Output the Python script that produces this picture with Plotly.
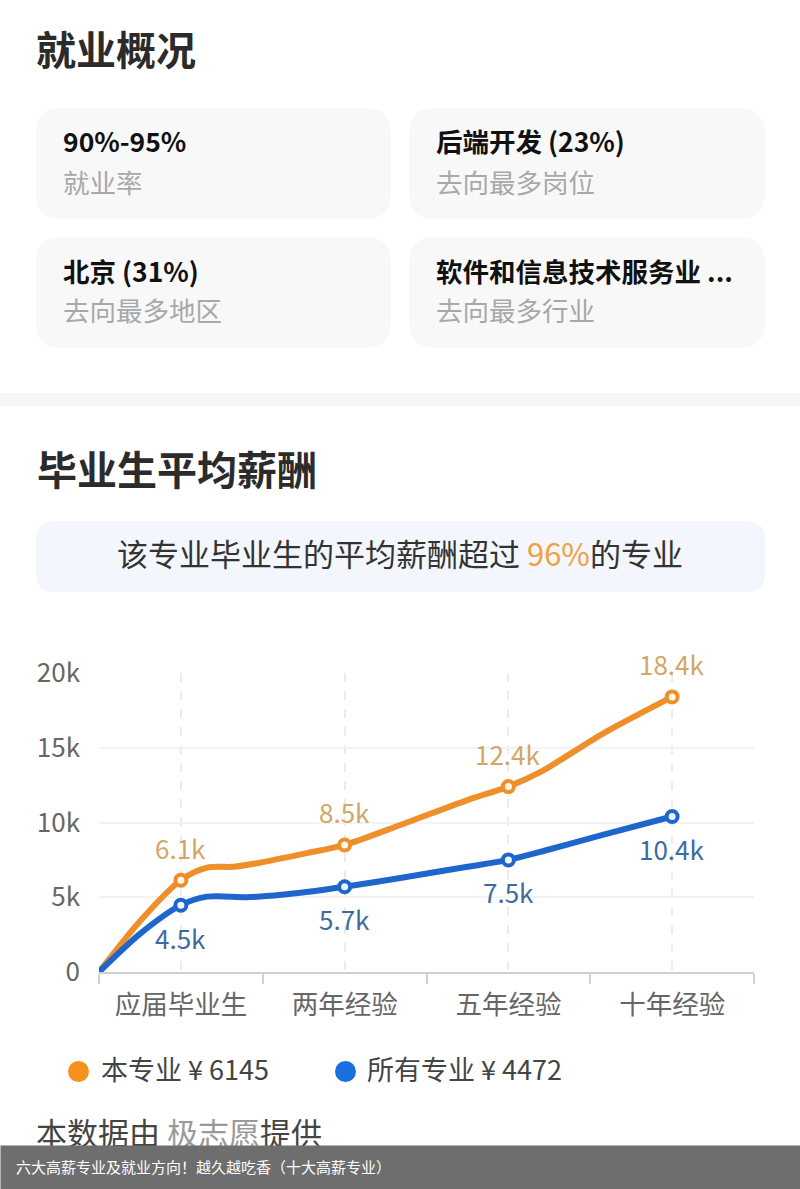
# Employment overview page with the graduate salary line chart.
import plotly.graph_objects as go

W, H = 800, 1189
FONT = "Noto Sans CJK SC"

# ---- chart data ----
categories = ["应届毕业生", "两年经验", "五年经验", "十年经验"]
major_values = [6145, 8500, 12400, 18400]
all_values = [4472, 5700, 7500, 10400]
major_labels = ["6.1k", "8.5k", "12.4k", "18.4k"]
all_labels = ["4.5k", "5.7k", "7.5k", "10.4k"]

# curve (x in category units, start is the axis origin)
major_curve_x = [-0.5, -0.25, 0, 0.16, 0.32, 0.48, 0.77, 1, 1.34, 1.75, 2, 2.2, 2.57, 3]
major_curve_y = [0, 3400, 6145, 6980, 7040, 7310, 7950, 8500, 9830, 11500, 12400, 13400, 15900, 18400]
all_curve_x = [-0.5, -0.25, 0, 0.16, 0.42, 0.73, 1, 1.34, 1.75, 2, 2.22, 2.57, 3]
all_curve_y = [0, 2550, 4472, 5040, 5010, 5300, 5700, 6290, 7040, 7500, 8110, 9160, 10400]

y_ticks = [0, 5000, 10000, 15000, 20000]
y_tick_labels = ["0", "5k", "10k", "15k", "20k"]
x_boundaries = [-0.5, 0.5, 1.5, 2.5, 3.5]

# ---- page text ----
cards = [
    ("90%-95%", "就业率"),
    ("后端开发 (23%)", "去向最多岗位"),
    ("北京 (31%)", "去向最多地区"),
    ("软件和信息技术服务业 ...", "去向最多行业"),
]
legend_items = ["本专业 ¥ 6145", "所有专业 ¥ 4472"]
caption_bar = "六大高薪专业及就业方向\uff01越久越吃香\uff08十大高薪专业\uff09"

ORANGE = "#ee8f2a"
BLUE = "#1f66cc"


# Pixel position (from the top left) to paper coordinates.
def px(x):
    return x / W


def py(y):
    return 1 - y / H


# Rounded box as a paper-referenced path shape.
def round_box(x0, y0, x1, y1, r, color):
    path = (f"M {px(x0 + r)} {py(y0)} L {px(x1 - r)} {py(y0)} Q {px(x1)} {py(y0)} {px(x1)} {py(y0 + r)} "
            f"L {px(x1)} {py(y1 - r)} Q {px(x1)} {py(y1)} {px(x1 - r)} {py(y1)} "
            f"L {px(x0 + r)} {py(y1)} Q {px(x0)} {py(y1)} {px(x0)} {py(y1 - r)} "
            f"L {px(x0)} {py(y0 + r)} Q {px(x0)} {py(y0)} {px(x0 + r)} {py(y0)} Z")
    return dict(type="path", path=path, xref="paper", yref="paper", fillcolor=color,
                line=dict(width=0), layer="below")


def text(x, y, s, size, color, anchor="left", **kw):
    return dict(x=px(x), y=py(y), xref="paper", yref="paper", text=s, showarrow=False, xanchor=anchor,
                yanchor="middle", font=dict(family=FONT, size=size, color=color), **kw)


fig = go.Figure()

# Line traces follow the curve, marker traces sit on the four categories.
fig.add_trace(go.Scatter(x=major_curve_x, y=major_curve_y, mode="lines", hoverinfo="skip",
                         line=dict(color=ORANGE, width=6, shape="spline", smoothing=0.8)))
fig.add_trace(go.Scatter(x=all_curve_x, y=all_curve_y, mode="lines", hoverinfo="skip",
                         line=dict(color=BLUE, width=6, shape="spline", smoothing=0.8)))
fig.add_trace(go.Scatter(x=list(range(4)), y=major_values, mode="markers", cliponaxis=False,
                         marker=dict(size=11, color="#fff6ea", line=dict(color=ORANGE, width=4))))
fig.add_trace(go.Scatter(x=list(range(4)), y=all_values, mode="markers", cliponaxis=False,
                         marker=dict(size=11, color="#eef5ff", line=dict(color=BLUE, width=4))))

shapes = [
    round_box(36, 108, 391, 219, 26, "#f8f8f8"),
    round_box(409, 108, 765, 219, 26, "#f8f8f8"),
    round_box(36, 237, 391, 348, 26, "#f8f8f8"),
    round_box(409, 237, 765, 348, 26, "#f8f8f8"),
    dict(type="rect", xref="paper", yref="paper", x0=0, x1=1, y0=py(406), y1=py(393),
         fillcolor="#f6f6f6", line=dict(width=0), layer="below"),
    round_box(36, 521, 765, 592, 18, "#f3f6fd"),
    # legend dots
    dict(type="circle", xref="paper", yref="paper", x0=px(68), x1=px(89), y0=py(1082), y1=py(1061),
         fillcolor="#f5921e", line=dict(width=0)),
    dict(type="circle", xref="paper", yref="paper", x0=px(335), x1=px(356), y0=py(1082), y1=py(1061),
         fillcolor="#1a6fe0", line=dict(width=0)),
]

annotations = [
    text(34, 48, "<b>就业概况</b>", 40, "#2b2b2b"),
    text(35, 468, "<b>毕业生平均薪酬</b>", 40, "#2b2b2b"),
    text(400, 553, "该专业毕业生的平均薪酬超过 <span style='color:#f0a040'>96%</span>的专业", 31, "#333333",
         anchor="center"),
    text(99, 1068, legend_items[0], 27, "#444444"),
    text(365, 1068, legend_items[1], 27, "#444444"),
    text(34, 1131, "本数据由 <span style='color:#999999'>极志愿</span>提供", 31, "#444444"),
]

# Value labels hang above the orange points and below the blue ones.
for i in range(4):
    annotations.append(dict(x=i, y=major_values[i], xref="x", yref="y", text=major_labels[i], showarrow=False,
                            yanchor="middle", yshift=33, font=dict(family=FONT, size=26, color="#d2a664")))
    annotations.append(dict(x=i, y=all_values[i], xref="x", yref="y", text=all_labels[i], showarrow=False,
                            yanchor="middle", yshift=-32, font=dict(family=FONT, size=26, color="#3c6c9e")))

# Card titles and captions.
for i, (value, caption) in enumerate(cards):
    cx = 61 if i % 2 == 0 else 434
    cy = 0 if i < 2 else 129
    annotations.append(text(cx, 141 + cy, f"<b>{value}</b>", 26.5, "#111111"))
    annotations.append(text(cx, 181 + cy, caption, 26.5, "#a8a8a8"))

# Bottom caption bar goes last so it covers the source line.
annotations.append(dict(x=0, y=py(1145), xref="paper", yref="paper", text=" ", showarrow=False, xanchor="left",
                        yanchor="top", width=800, height=44, bgcolor="#6e6e6e", borderpad=0))
annotations.append(text(14, 1166, caption_bar, 15, "#ffffff"))

fig.update_layout(
    width=W, height=H, margin=dict(l=0, r=0, t=0, b=0), autosize=False,
    paper_bgcolor="#ffffff", plot_bgcolor="rgba(0,0,0,0)", showlegend=False,
    font=dict(family=FONT), shapes=shapes, annotations=annotations,
)
fig.update_xaxes(
    automargin=False,
    domain=[px(99), px(754)], range=[-0.5, 3.5], tickmode="array", tickvals=list(range(4)), ticktext=categories,
    tickfont=dict(family=FONT, size=26.5, color="#666666"), ticks="", ticklabelstandoff=8,
    showgrid=True, gridcolor="#ececec", griddash="dash", gridwidth=1.5, zeroline=False,
    showline=True, linecolor="#d0d0d0", linewidth=2,
    minor=dict(tickmode="array", tickvals=x_boundaries, ticks="outside", ticklen=10, tickwidth=2, tickcolor="#d0d0d0",
               showgrid=False),
)
fig.update_yaxes(
    automargin=False,
    domain=[py(972), py(673)], range=[0, 20000], tickmode="array", tickvals=y_ticks, ticktext=y_tick_labels,
    tickfont=dict(family=FONT, size=26, color="#666666"), ticks="", ticklabelstandoff=18,
    showgrid=True, gridcolor="#f3f3f3", gridwidth=1.5, zeroline=False, showline=False,
)

fig.write_html("out.html", config=dict(displayModeBar=False), post_script="document.body.style.margin='0';")
